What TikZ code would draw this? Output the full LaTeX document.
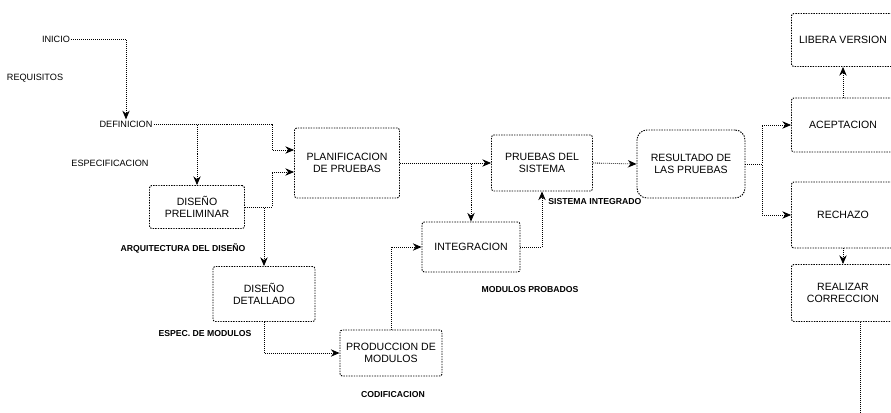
\documentclass[tikz,border=0pt]{standalone}
\usepackage{fontspec}
\setmainfont{Liberation Sans}
\usetikzlibrary{arrows.meta, calc}

\begin{document}
\begin{tikzpicture}[x=0.3mm, y=-0.3mm,
  etapa/.style={draw, line width=0.8pt, dash pattern=on 1.2pt off 1pt, rounded corners=2pt, align=center, inner sep=0pt, font=\fontsize{9}{10.5}\selectfont},
  texto/.style={align=center, inner sep=1pt, font=\fontsize{7.8}{9}\selectfont},
  salida/.style={align=center, inner sep=1pt, font=\fontsize{7.4}{8.5}\selectfont\bfseries},
  flujo/.style={densely dotted, line width=0.7pt, -{Stealth[length=2.6mm, width=2.2mm]}},
  traza/.style={densely dotted, line width=0.7pt}]
  \useasboundingbox (0,0) rectangle (891,413);
  \clip (0,0) rectangle (891,413);
  \node[texto] (inicio) at (56,39) {INICIO};
  \node[texto] (requisitos) at (35,78) {REQUISITOS};
  \node[texto] (definicion) at (126,124) {DEFINICION};
  \node[texto] (especificacion) at (110,163) {ESPECIFICACION};
  \node[etapa, minimum width=28.5mm, minimum height=12.9mm] (prelim) at (197,207) {DISEÑO\\PRELIMINAR};
  \node[salida] (arquitectura) at (183,248) {ARQUITECTURA DEL DISEÑO};
  \node[etapa, minimum width=30.6mm, minimum height=16.5mm] (detallado) at (264,294) {DISEÑO\\DETALLADO};
  \node[salida] (especmod) at (205,334) {ESPEC. DE MODULOS};
  \node[etapa, minimum width=30.6mm, minimum height=13.8mm] (produccion) at (391,353) {PRODUCCION DE\\MODULOS};
  \node[salida] (codificacion) at (393,395) {CODIFICACION};
  \node[etapa, minimum width=31.5mm, minimum height=21mm] (planif) at (347,163) {PLANIFICACION\\DE PRUEBAS};
  \node[etapa, minimum width=29.4mm, minimum height=15mm] (integracion) at (471,247) {INTEGRACION};
  \node[salida] (modprob) at (530,290) {MODULOS PROBADOS};
  \node[etapa, minimum width=30.3mm, minimum height=16.8mm] (pruebas) at (542,163) {PRUEBAS DEL\\SISTEMA};
  \node[salida, anchor=west] (sisint) at (547,202) {SISTEMA INTEGRADO};
  \node[etapa, rounded corners=3mm, minimum width=32.4mm, minimum height=20.4mm] (resultado) at (691,164) {RESULTADO DE\\LAS PRUEBAS};
  \node[etapa, minimum width=30.9mm, minimum height=15.9mm] (libera) at (843,40) {LIBERA VERSION};
  \node[etapa, minimum width=30.9mm, minimum height=16.2mm] (aceptacion) at (843,125) {ACEPTACION};
  \node[etapa, minimum width=30.9mm, minimum height=19.8mm] (rechazo) at (843,215) {RECHAZO};
  \node[etapa, minimum width=30.9mm, minimum height=17.1mm] (correccion) at (843,293) {REALIZAR\\CORRECCION};
  \coordinate (retorno) at (860,413);

  \draw[flujo] (inicio.east) -| (definicion.north);
  \draw[flujo] (definicion.east) -| (prelim.north);
  \draw[flujo] (definicion.east) -| ($(planif.west)+(-22,-13)$) -- ($(planif.west)+(0,-13)$);
  \draw[flujo] (prelim.east) -| (detallado.north);
  \draw[flujo] (prelim.east) -| ($(planif.west)+(-22,9)$) -- ($(planif.west)+(0,9)$);
  \draw[flujo] (detallado.south) |- (produccion.west);
  \draw[flujo] (produccion.north) |- (integracion.west);
  \draw[flujo] (integracion.east) -| (pruebas.south);
  \draw[flujo] (planif.east) -- (pruebas.west);
  \draw[flujo] (planif.east) -| (integracion.north);
  \draw[flujo] (pruebas.east) -- (resultado.west);
  \draw[flujo] (resultado.east) -- ++(17,0) |- (aceptacion.west);
  \draw[flujo] (resultado.east) -- ++(17,0) |- (rechazo.west);
  \draw[flujo] (aceptacion.north) -- (libera.south);
  \draw[flujo] (rechazo.south) -- (correccion.north);
  \draw[traza] (correccion.south -| retorno) -- (retorno);
\end{tikzpicture}
\end{document}
